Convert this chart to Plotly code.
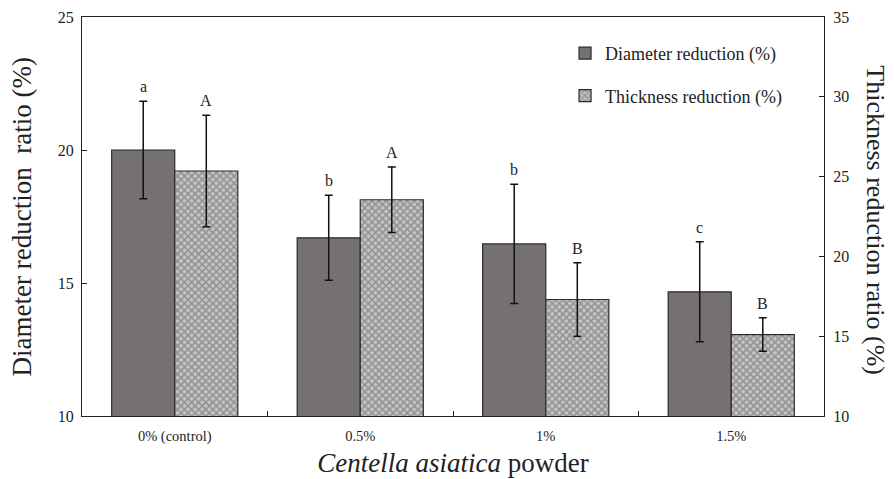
import plotly.graph_objects as go

categories = ["0% (control)", "0.5%", "1%", "1.5%"]
diameter = [20.0, 16.7, 16.47, 14.67]
diameter_err = [1.83, 1.6, 2.24, 1.88]
thickness = [25.35, 23.55, 17.3, 15.1]
thickness_err = [3.5, 2.05, 2.3, 1.05]
diameter_letters = ["a", "b", "b", "c"]
thickness_letters = ["A", "A", "B", "B"]

FONT = "Liberation Serif, Times New Roman, serif"
W = 0.34

fig = go.Figure()
fig.add_trace(go.Bar(
    x=categories, y=diameter, name="Diameter reduction (%)",
    width=W, offset=-W, yaxis="y", legendgroup="d",
    marker=dict(color="#767171", line=dict(color="#2b2b2b", width=1.2)),
    error_y=dict(type="data", array=diameter_err, color="#111", thickness=1.5, width=4),
))
fig.add_trace(go.Bar(
    x=categories, y=thickness, name="Thickness reduction (%)",
    width=W, offset=0, yaxis="y2", legendgroup="t",
    marker=dict(color="#b8b8b8", line=dict(color="#2b2b2b", width=1.2),
                pattern=dict(shape="x", fgcolor="#5e5e5e", bgcolor="#c4c4c4",
                             size=5, solidity=0.5)),
    error_y=dict(type="data", array=thickness_err, color="#111", thickness=1.5, width=4),
))

annotations = []
for i, (v, e, t) in enumerate(zip(diameter, diameter_err, diameter_letters)):
    annotations.append(dict(x=i - W / 2, y=v + e, xref="x", yref="y", text=t,
                            showarrow=False, yanchor="bottom", yshift=4,
                            font=dict(family=FONT, size=16, color="#222")))
for i, (v, e, t) in enumerate(zip(thickness, thickness_err, thickness_letters)):
    annotations.append(dict(x=i + W / 2, y=v + e, xref="x", yref="y2", text=t,
                            showarrow=False, yanchor="bottom", yshift=4,
                            font=dict(family=FONT, size=16, color="#222")))

annotations.append(dict(x=-0.081, y=0.5, xref="paper", yref="paper",
                        xanchor="center", yanchor="middle",
                        text="Diameter reduction\u00a0 ratio (%)", textangle=-90,
                        showarrow=False, font=dict(family=FONT, size=27, color="#222")))
annotations.append(dict(x=1.069, y=0.49, xref="paper", yref="paper",
                        xanchor="center", yanchor="middle",
                        text="Thickness reduction ratio (%)", textangle=90,
                        showarrow=False, font=dict(family=FONT, size=26, color="#222")))

fig.update_layout(
    width=886, height=471,
    margin=dict(l=74, r=70, t=9, b=63, autoexpand=False),
    plot_bgcolor="white", paper_bgcolor="white",
    barmode="group", bargap=0.32, bargroupgap=0,
    font=dict(family=FONT, size=13, color="#222"),
    showlegend=True,
    legend=dict(x=0.651, y=0.955, xanchor="left", yanchor="top",
                traceorder="grouped", tracegroupgap=16, itemwidth=30,
                font=dict(family=FONT, size=18, color="#222"),
                bgcolor="rgba(0,0,0,0)"),
    xaxis=dict(showline=True, linecolor="#222", linewidth=1, mirror=True,
               ticks="inside", tickson="boundaries", ticklen=5, tickcolor="#222",
               ticklabelstandoff=7, automargin=False,
               tickfont=dict(family=FONT, size=14.5, color="#222"),
               title=dict(text="<i>Centella asiatica</i> powder",
                          font=dict(family=FONT, size=27, color="#222"), standoff=8)),
    yaxis=dict(range=[10, 25], dtick=5, showline=True, linecolor="#222", linewidth=1,
               mirror=True, showgrid=False, zeroline=False, automargin=False,
               ticks="inside", ticklen=5, tickcolor="#222", ticklabelstandoff=4,
               tickfont=dict(family=FONT, size=16, color="#222")),
    yaxis2=dict(range=[10, 35], dtick=5, overlaying="y", side="right",
                showline=True, linecolor="#222", linewidth=1, showgrid=False,
                zeroline=False, ticks="inside", ticklen=5, tickcolor="#222",
                ticklabelstandoff=5, automargin=False,
                tickfont=dict(family=FONT, size=16, color="#222")),
    annotations=annotations,
)

fig.write_html("out.html")
